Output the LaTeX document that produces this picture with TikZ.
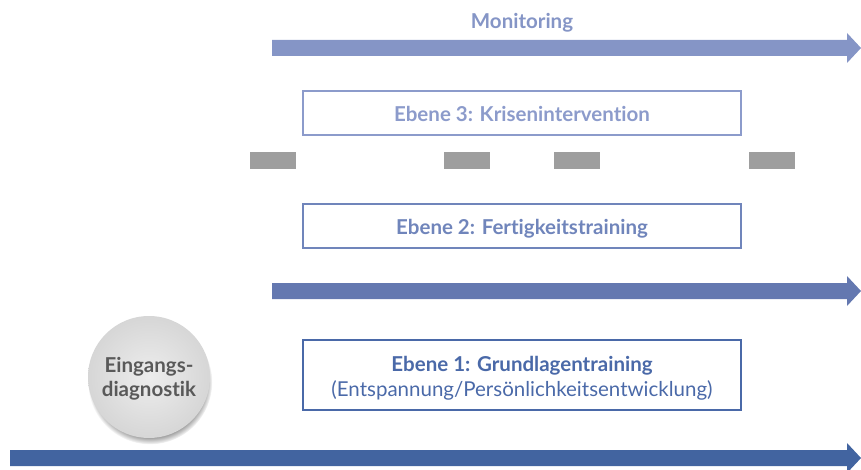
\documentclass[tikz,border=0pt]{standalone}
\usepackage{fontspec}
\setmainfont{Lato}[Ligatures=CommonOff]
\usetikzlibrary{shadows}
\definecolor{arrA}{HTML}{8595C6}
\definecolor{arrB}{HTML}{6478B0}
\definecolor{arrC}{HTML}{4264A0}
\definecolor{boxA}{HTML}{8C9BCB}
\definecolor{boxB}{HTML}{7085BB}
\definecolor{boxC}{HTML}{4A69A8}
\definecolor{barG}{HTML}{9E9E9E}
\definecolor{txtG}{HTML}{595959}
\begin{document}
\begin{tikzpicture}[x=1pt,y=-1pt,
  levelbox/.style={draw,line width=1.3pt,minimum width=438pt,minimum height=44pt,inner sep=0pt},
  lbl/.style={anchor=base,inner sep=0pt,font=\fontsize{20.5}{25}\selectfont},
  graybar/.style={fill=barG,minimum width=46pt,minimum height=17pt,inner sep=0pt},
]
\useasboundingbox (0,0) rectangle (861,470);
% arrows
\newcommand{\bigarrow}[3]{\fill[#3] (#1,#2-8) -- (847,#2-8) -- (847,#2-15) -- (861,#2) -- (847,#2+15) -- (847,#2+8) -- (#1,#2+8) -- cycle;}
\bigarrow{272}{48}{arrA}
\bigarrow{272}{291}{arrB}
\bigarrow{10}{458}{arrC}
\node[lbl,text=arrA,font=\fontsize{20.5}{25}\selectfont\bfseries] (mon) at (522,29) {Monitoring};
\node[levelbox,draw=boxA] (e3) at (522,113) {};
\node[lbl,text=boxA,font=\fontsize{20.5}{25}\selectfont\bfseries] (e3t) at (522,121.5) {Ebene 3: Krisenintervention};
\node[levelbox,draw=boxB] (e2) at (522,226) {};
\node[lbl,text=boxB,font=\fontsize{20.5}{25}\selectfont\bfseries] (e2t) at (522,235) {Ebene 2: Fertigkeitstraining};
\node[levelbox,draw=boxC,minimum height=70pt] (e1) at (522,375) {};
\node[lbl,text=boxC,font=\fontsize{20.5}{25}\selectfont\bfseries] (e1t) at (522,371.5) {Ebene 1: Grundlagentraining};
\node[lbl,text=boxC] (e1s) at (522,396.5) {(Entspannung/Persönlichkeitsentwicklung)};
\node[graybar] (g1) at (273,160.5) {};
\node[graybar] (g2) at (467,160.5) {};
\node[graybar] (g3) at (577,160.5) {};
\node[graybar] (g4) at (772,160.5) {};
\node[circle,minimum size=122pt,inner sep=0pt,inner color=black!7,outer color=black!16,
  circular drop shadow={shadow xshift=1pt,shadow yshift=-5pt,shadow scale=1.02}] (diag) at (149,377) {};
\node[lbl,text=txtG,font=\fontsize{20.5}{25}\selectfont\bfseries] (diag1) at (149,372.5) {Eingangs-};
\node[lbl,text=txtG,font=\fontsize{20.5}{25}\selectfont\bfseries] (diag2) at (149,396.5) {diagnostik};
\end{tikzpicture}
\end{document}
